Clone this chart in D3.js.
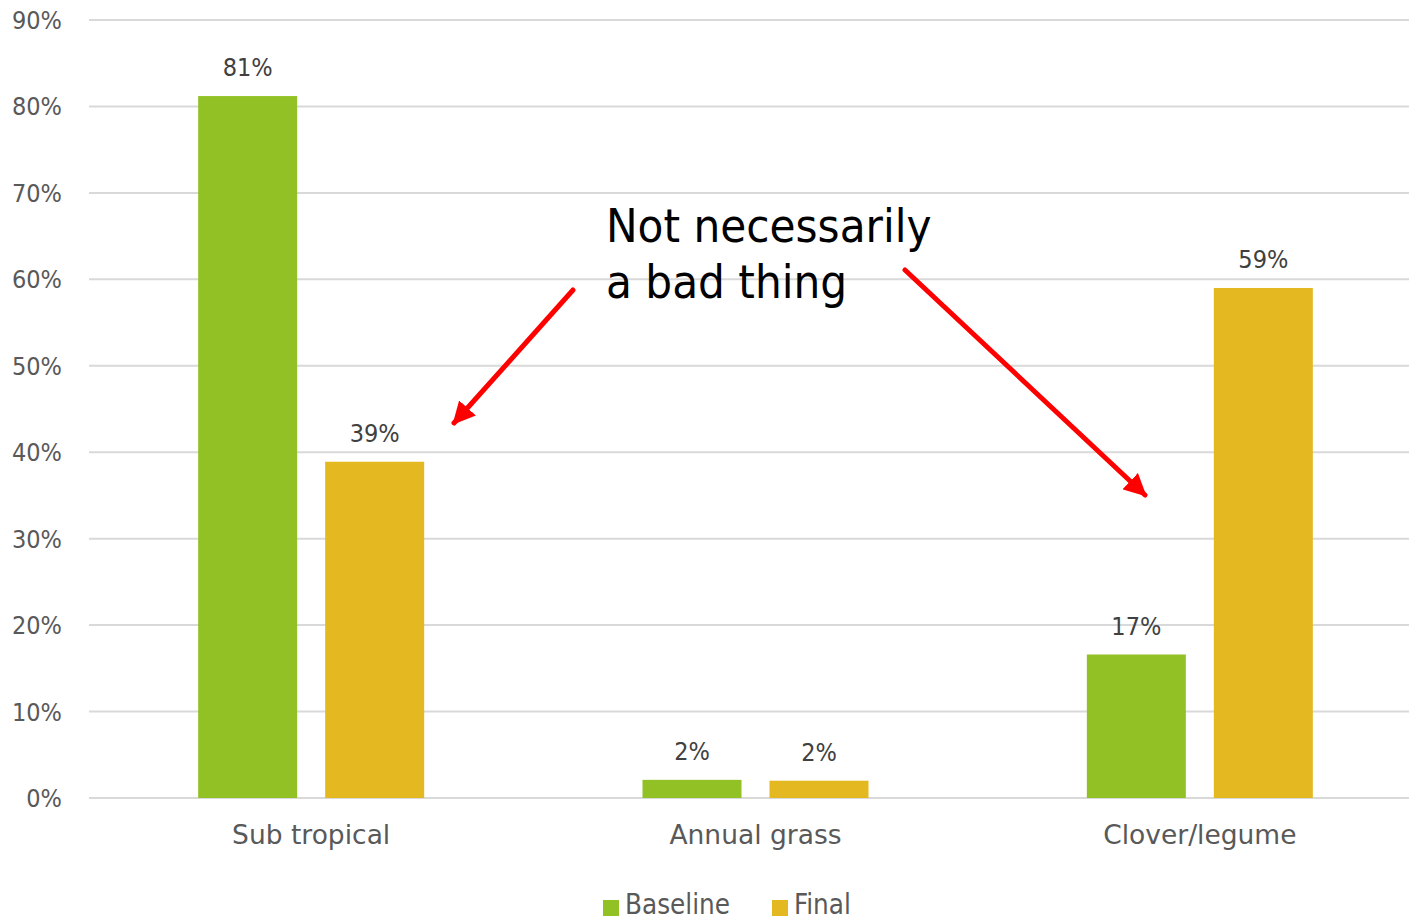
<!DOCTYPE html>
<html><head><meta charset="utf-8">
<script src="https://cdn.jsdelivr.net/npm/d3@7"></script>
<style>
body{margin:0;background:#fff;}
svg{display:block;}
text{font-family:"DejaVu Sans Condensed","DejaVu Sans",sans-serif;}
</style></head>
<body>
<script>
const categories = ["Sub tropical", "Annual grass", "Clover/legume"];
const seriesNames = ["Baseline", "Final"];
const baseline = [81.2, 2.1, 16.6];
const final = [38.9, 2.0, 59.0];
const yTicks = [0, 10, 20, 30, 40, 50, 60, 70, 80, 90];
const colors = ["#92c125", "#e4b820"];
const annotation = ["Not necessarily", "a bad thing"];

const W = 1409, H = 921;
const svg = d3.select("body").append("svg").attr("width", W).attr("height", H);

const x = d3.scaleBand().domain(categories).range([89, 1422]).paddingInner(0).paddingOuter(0);
const y = d3.scaleLinear().domain([0, 90]).range([798, 20]);
const barW = 99, gap = 28;

// gridlines
svg.append("g").selectAll("line").data(yTicks).join("line")
  .attr("x1", 89).attr("x2", W).attr("y1", d => y(d)).attr("y2", d => y(d))
  .attr("stroke", "#d9d9d9").attr("stroke-width", 2);

// y tick labels
svg.append("g").selectAll("text").data(yTicks).join("text")
  .attr("x", 62).attr("y", d => y(d)).attr("dy", "0.36em")
  .attr("text-anchor", "end").attr("fill", "#595959").attr("font-size", 25)
  .text(d => d + "%");

const series = [baseline, final];
series.forEach((vals, si) => {
  const g = svg.append("g");
  const xpos = (c) => x(c) + x.bandwidth() / 2 + (si === 0 ? -gap / 2 - barW : gap / 2);
  g.selectAll("rect").data(categories).join("rect")
    .attr("x", c => xpos(c)).attr("width", barW)
    .attr("y", (c, i) => y(vals[i])).attr("height", (c, i) => y(0) - y(vals[i]))
    .attr("fill", colors[si]);
  g.selectAll("text").data(categories).join("text")
    .attr("x", c => xpos(c) + barW / 2).attr("y", (c, i) => y(vals[i]) - 20)
    .attr("text-anchor", "middle").attr("fill", "#404040").attr("font-size", 25)
    .text((c, i) => Math.round(vals[i]) + "%");
});

// category labels
svg.append("g").selectAll("text").data(categories).join("text")
  .attr("x", c => x(c) + x.bandwidth() / 2).attr("y", 844)
  .attr("text-anchor", "middle").attr("fill", "#595959").attr("font-size", 26.5)
  .style("font-family", "'DejaVu Sans', sans-serif")
  .text(c => c);

// legend
const legX = [603, 772];
seriesNames.forEach((n, i) => {
  svg.append("rect").attr("x", legX[i]).attr("y", 900).attr("width", 16).attr("height", 16).attr("fill", colors[i]);
  svg.append("text").attr("x", legX[i] + 22).attr("y", 914).attr("fill", "#595959").attr("font-size", 27.5).text(n);
});

// annotation
svg.append("text").attr("x", 606).attr("y", 242).attr("font-size", 47).attr("fill", "#000").text(annotation[0]);
svg.append("text").attr("x", 606).attr("y", 298).attr("font-size", 47).attr("fill", "#000").text(annotation[1]);

// arrows
const defs = svg.append("defs");
defs.append("marker").attr("id", "ah").attr("viewBox", "0 0 10 10").attr("refX", 9).attr("refY", 5)
  .attr("markerWidth", 4.5).attr("markerHeight", 4.5).attr("orient", "auto").attr("markerUnits", "strokeWidth")
  .append("path").attr("d", "M0,0 L10,5 L0,10 z").attr("fill", "#ff0000");
const arrows = [[573, 290, 454, 423], [905, 270, 1145, 495]];
svg.append("g").selectAll("line").data(arrows).join("line")
  .attr("x1", d => d[0]).attr("y1", d => d[1]).attr("x2", d => d[2]).attr("y2", d => d[3])
  .attr("stroke", "#ff0000").attr("stroke-width", 5).attr("stroke-linecap", "round")
  .attr("marker-end", "url(#ah)");
</script>
</body></html>
